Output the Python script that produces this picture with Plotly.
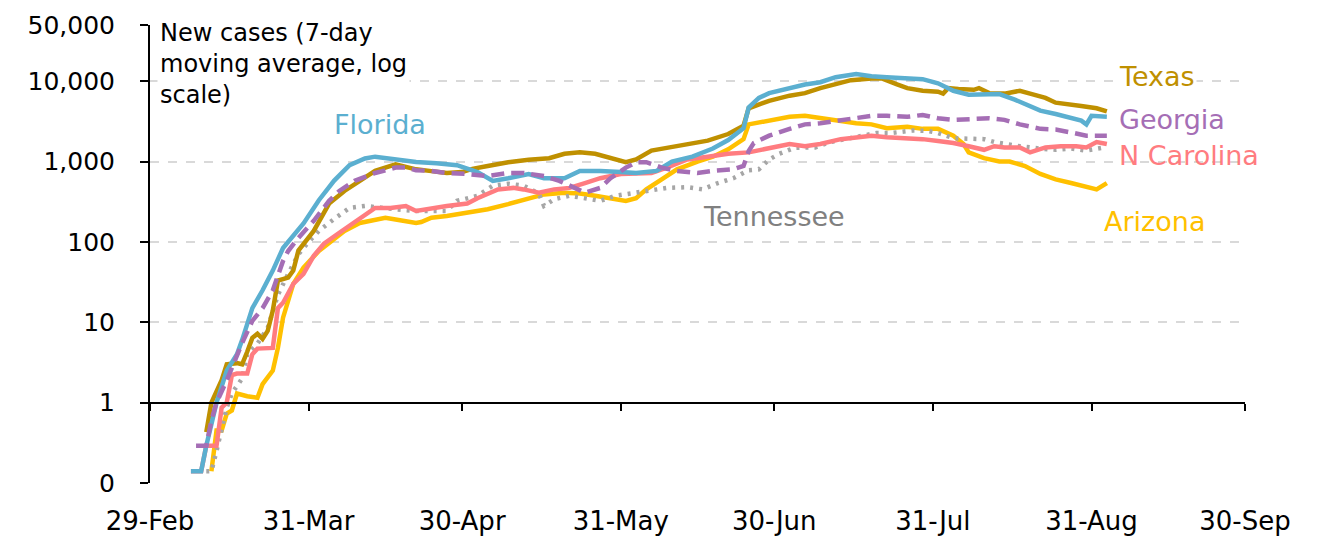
import math
import plotly.graph_objects as go

# month-day of each reading (2020) and 7-day average new cases
florida_days = ["03-08", "03-10", "03-11", "03-12", "03-13", "03-15", "03-17", "03-18", "03-20", "03-22",
                "03-24", "03-26", "03-30", "04-02", "04-05", "04-08", "04-11", "04-13", "04-17", "04-21",
                "04-25", "04-29", "05-03", "05-06", "05-09", "05-13", "05-16", "05-20", "05-23", "05-27",
                "05-31", "06-03", "06-07", "06-10", "06-14", "06-18", "06-21", "06-24", "06-25", "06-27",
                "06-29", "07-03", "07-06", "07-09", "07-12", "07-16", "07-19", "07-22", "07-26", "07-29",
                "08-01", "08-04", "08-07", "08-11", "08-13", "08-16", "08-19", "08-21", "08-24", "08-27",
                "08-29", "08-30", "08-31", "09-03"]
florida_cases = [0.14, 0.14, 0.29, 0.55, 1.0, 2.5, 4.0, 6.0, 15, 25,
                 44, 84, 170, 330, 580, 900, 1090, 1150, 1060, 990,
                 950, 900, 740, 575, 620, 700, 620, 620, 765, 765,
                 740, 720, 765, 1000, 1150, 1450, 1850, 2600, 4700, 6200,
                 7100, 8300, 9100, 9700, 11200, 12300, 11500, 11200, 10800, 10600,
                 9400, 7600, 6800, 6800, 6900, 5900, 4900, 4300, 3900, 3450,
                 3230, 2900, 3700, 3600]

texas_days = ["03-11", "03-12", "03-14", "03-15", "03-17", "03-18", "03-19", "03-20", "03-21", "03-22",
              "03-23", "03-24", "03-25", "03-27", "03-28", "03-29", "04-01", "04-04", "04-07", "04-10",
              "04-13", "04-17", "04-21", "04-24", "04-27", "04-30", "05-02", "05-05", "05-09", "05-13",
              "05-17", "05-20", "05-23", "05-26", "05-29", "06-01", "06-03", "06-06", "06-09", "06-13",
              "06-17", "06-21", "06-24", "06-25", "06-27", "06-29", "07-03", "07-06", "07-09", "07-12",
              "07-15", "07-19", "07-21", "07-24", "07-26", "07-29", "08-01", "08-02", "08-03", "08-05",
              "08-08", "08-09", "08-11", "08-14", "08-17", "08-19", "08-22", "08-24", "08-27", "08-29",
              "09-01", "09-03"]
texas_cases = [0.43, 1.0, 1.9, 3.0, 3.1, 3.0, 4.3, 6.4, 7.2, 6.2,
               7.8, 14, 33, 36, 44, 78, 137, 300, 430, 575,
               765, 920, 800, 760, 720, 740, 810, 880, 980, 1050,
               1100, 1250, 1300, 1250, 1100, 980, 1060, 1370, 1480, 1650,
               1820, 2200, 2800, 4600, 5200, 5700, 6600, 7100, 8200, 9100,
               10300, 10800, 10800, 9100, 8200, 7600, 7400, 7000, 8200, 8000,
               7800, 8200, 7100, 7000, 7600, 7000, 6200, 5400, 5000, 4900,
               4600, 4200]

georgia_days = ["03-09", "03-11", "03-12", "03-13", "03-15", "03-16", "03-17", "03-18", "03-20", "03-22",
                "03-24", "03-26", "03-27", "03-29", "04-01", "04-04", "04-06", "04-09", "04-13", "04-17",
                "04-19", "04-21", "04-24", "04-27", "05-01", "05-05", "05-09", "05-12", "05-16", "05-19",
                "05-22", "05-24", "05-27", "05-29", "06-01", "06-03", "06-05", "06-08", "06-11", "06-15",
                "06-18", "06-22", "06-24", "06-25", "06-26", "06-29", "07-03", "07-06", "07-09", "07-12",
                "07-16", "07-19", "07-22", "07-26", "07-29", "08-01", "08-04", "08-07", "08-11", "08-14",
                "08-17", "08-21", "08-24", "08-27", "08-30", "09-03"]
georgia_cases = [0.29, 0.29, 0.6, 1.0, 1.9, 2.7, 4.0, 5.5, 10.4, 15,
                 25, 58, 77, 112, 183, 324, 430, 575, 720, 840,
                 840, 780, 765, 720, 700, 660, 720, 720, 660, 575,
                 470, 410, 470, 620, 840, 980, 980, 840, 765, 720,
                 765, 800, 880, 1350, 1700, 2100, 2550, 2900, 3000, 3200,
                 3450, 3700, 3700, 3600, 3800, 3450, 3300, 3400, 3450, 3300,
                 2900, 2550, 2500, 2300, 2100, 2100]

ncarolina_days = ["03-08", "03-10", "03-11", "03-13", "03-14", "03-15", "03-16", "03-17", "03-19", "03-20",
                  "03-21", "03-24", "03-25", "03-26", "03-28", "03-30", "04-01", "04-03", "04-06", "04-08",
                  "04-11", "04-13", "04-16", "04-19", "04-21", "04-24", "04-27", "05-01", "05-03", "05-07",
                  "05-10", "05-12", "05-15", "05-18", "05-21", "05-24", "05-27", "05-31", "06-03", "06-06",
                  "06-09", "06-13", "06-17", "06-21", "06-25", "06-29", "07-03", "07-06", "07-09", "07-13",
                  "07-16", "07-19", "07-22", "07-26", "07-29", "08-01", "08-04", "08-07", "08-10", "08-12",
                  "08-14", "08-17", "08-19", "08-22", "08-25", "08-28", "08-30", "09-01", "09-03"]
ncarolina_cases = [0.14, 0.14, 0.29, 0.29, 0.87, 1.0, 2.2, 2.3, 2.3, 4.0,
                   4.7, 4.8, 15, 17.5, 30, 40, 67, 95, 130, 158,
                   210, 265, 265, 280, 243, 265, 280, 300, 350, 450,
                   470, 450, 410, 450, 470, 540, 620, 700, 700, 720,
                   840, 1060, 1150, 1250, 1300, 1480, 1650, 1550, 1650, 1900,
                   2000, 2100, 2000, 1950, 1900, 1800, 1700, 1550, 1400, 1550,
                   1500, 1500, 1300, 1500, 1550, 1550, 1500, 1750, 1650]

tennessee_days = ["03-11", "03-12", "03-13", "03-14", "03-15", "03-16", "03-18", "03-19", "03-21", "03-23",
                  "03-24", "03-25", "03-27", "03-29", "03-31", "04-02", "04-05", "04-08", "04-11", "04-14",
                  "04-17", "04-21", "04-25", "04-27", "04-29", "05-03", "05-06", "05-09", "05-12", "05-15",
                  "05-16", "05-18", "05-21", "05-24", "05-27", "05-30", "06-02", "06-06", "06-09", "06-13",
                  "06-16", "06-19", "06-22", "06-25", "06-27", "06-29", "07-01", "07-04", "07-08", "07-11",
                  "07-14", "07-17", "07-20", "07-23", "07-27", "07-30", "08-01", "08-04", "08-07", "08-10",
                  "08-12", "08-14", "08-17", "08-21", "08-24", "08-27", "08-30", "09-02"]
tennessee_cases = [0.14, 0.14, 0.25, 0.45, 0.87, 1.3, 2.0, 4.0, 5.4, 8.5,
                   14, 22, 40, 70, 100, 137, 193, 265, 280, 265,
                   255, 243, 243, 243, 324, 375, 500, 530, 500, 400,
                   280, 340, 375, 350, 324, 375, 400, 430, 470, 480,
                   450, 540, 620, 780, 800, 1060, 1250, 1480, 1500, 1750,
                   1900, 2100, 2270, 2270, 2430, 2400, 2270, 1950, 1900, 1900,
                   1750, 1650, 1550, 1450, 1400, 1450, 1370, 1480]

arizona_days = ["03-12", "03-13", "03-14", "03-15", "03-16", "03-17", "03-19", "03-21", "03-22", "03-24",
                "03-25", "03-26", "03-28", "03-30", "04-02", "04-05", "04-07", "04-10", "04-12", "04-15",
                "04-17", "04-21", "04-22", "04-24", "04-27", "05-01", "05-05", "05-09", "05-13", "05-16",
                "05-20", "05-23", "05-26", "05-29", "06-01", "06-03", "06-05", "06-08", "06-11", "06-15",
                "06-18", "06-21", "06-24", "06-25", "06-29", "07-03", "07-06", "07-09", "07-12", "07-16",
                "07-19", "07-22", "07-26", "07-29", "08-01", "08-04", "08-06", "08-07", "08-10", "08-13",
                "08-15", "08-18", "08-21", "08-24", "08-27", "08-29", "09-01", "09-03"]
arizona_cases = [0.14, 0.45, 0.45, 0.73, 0.8, 1.3, 1.2, 1.15, 1.7, 2.5,
                 4.8, 11.4, 30, 48, 77, 108, 137, 172, 183, 200,
                 190, 172, 177, 200, 210, 230, 255, 295, 350, 390,
                 410, 400, 375, 350, 324, 350, 450, 600, 800, 1000,
                 1150, 1420, 1900, 2900, 3200, 3600, 3700, 3450, 3200, 3000,
                 2900, 2600, 2700, 2550, 2550, 2100, 1650, 1300, 1100, 1000,
                 1000, 880, 700, 600, 540, 500, 450, 540]

tick_dates = ["2020-02-29", "2020-03-31", "2020-04-30", "2020-05-31",
              "2020-06-30", "2020-07-31", "2020-08-31", "2020-09-30"]
tick_labels = ["29-Feb", "31-Mar", "30-Apr", "31-May", "30-Jun", "31-Jul", "31-Aug", "30-Sep"]
y_ticks = [0.1, 1, 10, 100, 1000, 10000, 50000]
y_labels = ["0", "1", "10", "100", "1,000", "10,000", "50,000"]

FONT = "DejaVu Sans"
Y_MIN, Y_MAX = -1, math.log10(50000)

series = [
    ("Arizona", arizona_days, arizona_cases, "#FFC000", "solid"),
    ("Tennessee", tennessee_days, tennessee_cases, "#A6A6A6", "3px,6px"),
    ("N Carolina", ncarolina_days, ncarolina_cases, "#FF7C80", "solid"),
    ("Texas", texas_days, texas_cases, "#BF9000", "solid"),
    ("Florida", florida_days, florida_cases, "#5BAFD0", "solid"),
    ("Georgia", georgia_days, georgia_cases, "#A56EB5", "13px,7px"),
]

fig = go.Figure()
for name, days, cases, color, dash in series:
    fig.add_trace(go.Scatter(
        x=["2020-" + d for d in days],
        y=cases,
        mode="lines",
        name=name,
        line=dict(color=color, width=4.5, dash=dash),
        showlegend=False,
    ))

# empty trace so the axis crossing at 1 gets drawn
fig.add_trace(go.Scatter(x=[], y=[], xaxis="x2", showlegend=False, hoverinfo="skip"))

# state labels next to their lines
labels = [
    ("Texas", "2020-09-05", 4.064, "#BF9000", "left", "white"),
    ("Georgia", "2020-09-05", 3.517, "#A56EB5", "left", None),
    ("N Carolina", "2020-09-05", 3.081, "#FF7C80", "left", None),
    ("Arizona", "2020-09-02", 2.248, "#FFC000", "left", None),
    ("Florida", "2020-04-14", 3.467, "#5BAFD0", "center", None),
    ("Tennessee", "2020-06-30", 2.322, "#808080", "center", None),
]
for text, x, y, color, anchor, bg in labels:
    fig.add_annotation(x=x, y=y, xref="x", yref="y", text=text, showarrow=False,
                       xanchor=anchor, yanchor="middle", bgcolor=bg,
                       font=dict(family=FONT, size=27, color=color))

fig.add_annotation(
    x=0.006, y=1.02, xref="paper", yref="paper",
    text="New cases (7-day<br>moving average, log<br>scale)",
    showarrow=False, xanchor="left", yanchor="top", align="left",
    bgcolor="white", borderpad=2,
    font=dict(family=FONT, size=24, color="black"),
)

fig.update_layout(
    width=1322, height=537,
    margin=dict(l=150, r=77, t=25, b=54),
    paper_bgcolor="white", plot_bgcolor="white",
    font=dict(family=FONT, color="black"),
    xaxis=dict(
        type="date", range=["2020-02-29", "2020-09-30"], automargin=False,
        tickmode="array", tickvals=tick_dates, ticktext=tick_labels,
        showgrid=False, showline=False, zeroline=False, ticks="",
        ticklabelstandoff=20, tickfont=dict(family=FONT, size=26),
    ),
    # axis line crossing at 1 with the month ticks
    xaxis2=dict(
        type="date", range=["2020-02-29", "2020-09-30"], overlaying="x", automargin=False,
        anchor="free", position=(0 - Y_MIN) / (Y_MAX - Y_MIN),
        tickmode="array", tickvals=tick_dates, showticklabels=False,
        showgrid=False, zeroline=False, showline=True, linecolor="black", linewidth=2,
        ticks="outside", ticklen=7, tickwidth=2, tickcolor="black",
    ),
    yaxis=dict(
        type="log", range=[Y_MIN, Y_MAX], automargin=False,
        tickmode="array", tickvals=y_ticks, ticktext=y_labels,
        showgrid=False, zeroline=False, showline=True, linecolor="black", linewidth=2,
        ticks="outside", ticklen=8, tickwidth=2, tickcolor="black",
        ticklabelstandoff=20, tickfont=dict(family=FONT, size=25),
        minor=dict(tickmode="array", tickvals=[0.1, 10, 100, 1000, 10000], ticks="",
                   showgrid=True, gridcolor="#D9D9D9", griddash="dash", gridwidth=1.5),
    ),
)

# page body has a default margin; drop it so the figure fills the window
fig.write_html("out.html", config={"displayModeBar": False},
               post_script="document.body.style.margin = '0';")
